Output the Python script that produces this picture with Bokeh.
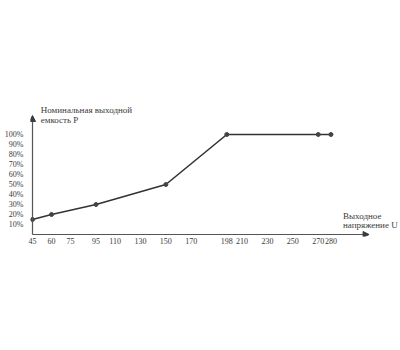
from bokeh.plotting import figure
from bokeh.models import Range1d, FixedTicker, Label, Arrow, NormalHead
from bokeh.embed import file_html
from bokeh.resources import INLINE

# data
voltage = [45, 60, 95, 150, 198, 270, 280]
capacity = [15, 20, 30, 50, 100, 100, 100]
x_ticks = [45, 60, 75, 95, 110, 130, 150, 170, 198, 210, 230, 250, 270, 280]
y_ticks = [10, 20, 30, 40, 50, 60, 70, 80, 90, 100]
y_labels = [f"{v}%" for v in y_ticks]
y_title = ["Номинальная выходной", "емкость P"]
x_title = ["Выходное", "напряжение U"]

FONT = "Liberation Serif"
INK = "#3a3a3a"
PX = 1.27  # pixels per volt
x0 = 45 - 2 / PX

p = figure(width=400, height=350, output_backend="svg", toolbar_location=None,
           x_range=Range1d(x0, x0 + 370 / PX), y_range=Range1d(-2, 234),
           min_border_left=30, min_border_right=0, min_border_top=0,
           min_border_bottom=114)
p.outline_line_color = None
p.grid.visible = False
p.background_fill_color = "white"

for ax in (p.xaxis[0], p.yaxis[0]):
    ax.axis_line_color = None
    ax.major_tick_line_color = None
    ax.minor_tick_line_color = None
    ax.major_tick_out = 0
    ax.major_tick_in = 0
    ax.minor_tick_out = 0
    ax.minor_tick_in = 0
    ax.major_label_text_font = FONT
    ax.major_label_text_font_size = "8px"
    ax.major_label_text_color = INK

p.xaxis.ticker = FixedTicker(ticks=x_ticks)
p.xaxis.major_label_standoff = 1
p.yaxis.ticker = FixedTicker(ticks=y_ticks)
p.yaxis.major_label_overrides = {t: l for t, l in zip(y_ticks, y_labels)}
p.yaxis.major_label_standoff = 7

# axes as arrows
p.add_layout(Arrow(end=NormalHead(size=6, fill_color=INK, line_color=INK),
                   x_start=45, y_start=0, x_end=45, y_end=119,
                   line_color="#555555", line_width=1.2))
p.add_layout(Arrow(end=NormalHead(size=6, fill_color=INK, line_color=INK),
                   x_start=45, y_start=0, x_end=310, y_end=0,
                   line_color="#555555", line_width=1.2))

p.line(voltage, capacity, line_color="#333333", line_width=1.6)
p.scatter(voltage, capacity, size=4, fill_color="#444444", line_color="#444444")

for i, t in enumerate(y_title):
    p.add_layout(Label(x=51.5, y=125 - i * 10, text=t, text_font=FONT,
                       text_font_size="9px", text_color=INK,
                       text_baseline="middle"))
for i, t in enumerate(x_title):
    p.add_layout(Label(x=289.5, y=18.5 - i * 8.5, text=t, text_font=FONT,
                       text_font_size="9px", text_color=INK,
                       text_baseline="middle"))

open("out.html", "w").write(file_html(p, INLINE))
